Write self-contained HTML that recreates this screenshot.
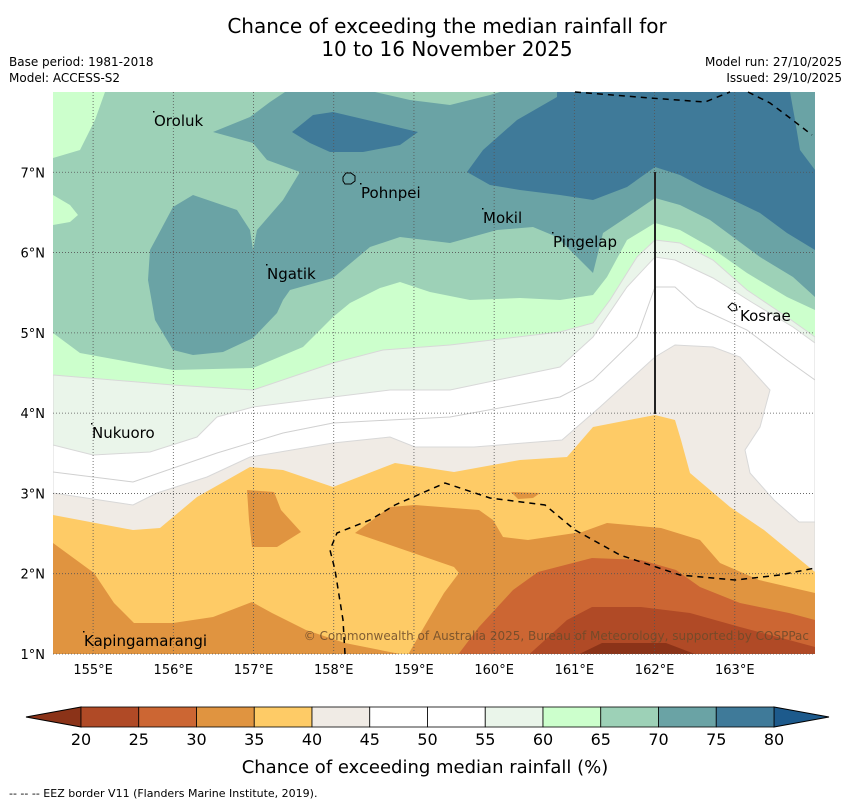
<!DOCTYPE html>
<html><head><meta charset="utf-8"><style>
body{margin:0;background:#fff;}
svg{display:block;font-family:"DejaVu Sans","Liberation Sans",sans-serif;}
</style></head><body>
<svg id="chart" width="850" height="804" viewBox="0 0 850 804" xmlns="http://www.w3.org/2000/svg">
<text x="447" y="33" font-size="20" text-anchor="middle">Chance of exceeding the median rainfall for</text>
<text x="447" y="56" font-size="20" text-anchor="middle">10 to 16 November 2025</text>
<text x="9" y="66" font-size="12">Base period: 1981-2018</text>
<text x="9" y="82" font-size="12">Model: ACCESS-S2</text>
<text x="842" y="66" font-size="12" text-anchor="end">Model run: 27/10/2025</text>
<text x="842" y="82" font-size="12" text-anchor="end">Issued: 29/10/2025</text>
<defs><clipPath id="mapclip"><rect x="53" y="92" width="762" height="562"/></clipPath></defs>
<g id="map" clip-path="url(#mapclip)"></g>
<g id="overlay"></g>
<g id="axes"></g>
<g id="cbar"></g>
<text x="425" y="773" font-size="18" text-anchor="middle">Chance of exceeding median rainfall (%)</text>
<text x="9" y="797" font-size="11">--  --  -- EEZ border V11 (Flanders Marine Institute, 2019).</text>
</svg>
<script>
const levels = [20,25,30,35,40,45,50,55,60,65,70,75,80];
const binColors = ["#b04a26","#cc6633","#e09440","#fecb66","#f0ebe5","#ffffff","#ffffff","#eaf5ea","#ccffcc","#9dd1b7","#6aa3a5","#3f7a99"];
const underColor = "#8b3318";
const overColor = "#1d5a8c";
const lonTicks = [155,156,157,158,159,160,161,162,163];
const latTicks = [1,2,3,4,5,6,7];

const NS="http://www.w3.org/2000/svg";
const lonScale = lon => 53 + (lon-154.5)*80.21;
const latScale = lat => 654 - (lat-1)*80.29;
const cbScale = v => 81 + (v-20)/60*693;
function mk(tag, attrs, parent){const e=document.createElementNS(NS,tag);for(const k in attrs)e.setAttribute(k,attrs[k]);parent.appendChild(e);return e;}
const colorOf = v => v<20?underColor:(v>=80?overColor:binColors[Math.floor((v-20)/5)]);

// contour regions (map pixel geometry): [value, points]
const BOT=[[815,700],[53,700]];
const regions = [
 [67, [[53,92],[815,92],[815,654],[53,654]]],
 [72, [[213,132],[250,117],[270,102],[285,92],[375,92],[410,100],[450,105],[490,95],[500,92],[815,92],[815,297],[793,277],[760,257],[733,237],[710,220],[680,205],[655,198],[627,217],[603,233],[593,273],[575,255],[557,237],[533,227],[497,230],[450,243],[400,237],[370,247],[333,278],[290,290],[283,300],[277,313],[253,338],[223,352],[193,355],[173,350],[155,320],[148,280],[150,250],[157,237],[173,207],[193,195],[237,210],[250,230],[253,250],[257,230],[283,200],[300,172],[267,160],[253,143]]],
 [77, [[557,92],[790,92],[795,120],[800,150],[815,170],[815,250],[787,233],[760,213],[733,200],[703,187],[680,175],[655,167],[627,187],[593,200],[560,195],[520,190],[490,185],[467,172],[483,150],[517,120],[557,97]]],
 [77, [[292,132],[313,115],[333,112],[418,132],[400,145],[363,152],[330,152],[310,143]]],
 [62, [[53,92],[105,92],[95,120],[80,150],[53,158]]],
 [62, [[53,195],[70,205],[78,215],[70,222],[53,225]]],
 [62, [[53,333],[80,353],[173,370],[253,368],[303,347],[333,317],[350,303],[380,288],[400,282],[430,292],[470,300],[520,298],[560,300],[593,295],[607,277],[627,240],[655,223],[680,230],[710,247],[747,273],[787,297],[815,310]].concat(BOT)],
 [57, [[53,375],[173,385],[253,390],[333,363],[383,350],[450,345],[560,332],[593,323],[610,300],[637,257],[655,240],[680,243],[713,260],[747,290],[787,317],[815,337]].concat(BOT)],
 [52, [[53,445],[93,455],[150,452],[197,437],[217,417],[253,407],[333,397],[390,390],[450,390],[560,367],[593,337],[627,287],[655,257],[675,260],[713,278],[753,303],[793,327],[815,343]].concat(BOT)],
 [42, [[53,493],[133,505],[157,493],[207,477],[250,457],[333,443],[390,437],[415,447],[474,447],[562,440],[600,407],[655,357],[675,345],[713,347],[740,357],[770,390],[760,427],[745,450],[750,473],[774,500],[799,522],[815,522]].concat(BOT)],
 [37, [[53,515],[133,530],[160,528],[197,497],[250,467],[283,470],[333,487],[395,463],[454,472],[520,460],[567,457],[593,427],[655,415],[675,420],[681,440],[690,473],[730,507],[764,530],[815,572]].concat(BOT)],
 [32, [[53,543],[94,573],[114,603],[134,623],[173,623],[213,617],[252,602],[272,613],[306,630],[345,643],[405,655],[53,655]]],
 [32, [[405,660],[424,627],[444,593],[459,573],[454,567],[355,533],[390,507],[415,505],[479,510],[493,520],[503,537],[528,540],[582,532],[607,523],[661,528],[700,540],[720,563],[759,580],[815,593],[815,660]]],
 [32, [[247,490],[274,492],[281,510],[301,532],[277,547],[252,547],[249,520]]],
 [32, [[511,492],[540,493],[533,498],[518,499]]],
 [27, [[454,660],[479,627],[513,590],[538,572],[592,558],[641,560],[676,570],[700,587],[740,603],[789,613],[815,620],[815,660]]],
 [22, [[523,660],[567,620],[592,607],[641,607],[690,613],[740,627],[789,640],[815,647],[815,660]]],
 [17, [[567,660],[602,643],[666,643],[700,656]]]
];
const mapG=document.getElementById('map');
regions.forEach((r,i)=>{
  const p=mk('polygon',{points:r[1].map(q=>q.join(',')).join(' '),fill:colorOf(r[0]),stroke:r[0]>=40&&r[0]<60?'#d8d8d8':'none','stroke-width':1},mapG);
  
  
});
// 45/50 internal contour line
const line45=[[53,472],[133,482],[217,453],[283,433],[333,423],[390,420],[450,417],[560,397],[593,380],[637,337],[655,287],[675,287],[697,307],[747,330],[787,360],[815,380]];
const l45=mk('polyline',{points:line45.map(q=>q.join(',')).join(' '),fill:'none',stroke:'#d0d0d0','stroke-width':1},mapG);



// grid
const ov=document.getElementById('overlay');
lonTicks.forEach(l=>{const g=mk('line',{x1:lonScale(l),x2:lonScale(l),y1:92,y2:654,stroke:'#555','stroke-width':0.8,'stroke-dasharray':'1,2'},ov);

});
latTicks.forEach(l=>{const g=mk('line',{x1:53,x2:815,y1:latScale(l),y2:latScale(l),stroke:'#555','stroke-width':0.8,'stroke-dasharray':'1,2'},ov);

});
// EEZ borders
const eez=[[[575,92],[650,98],[705,102],[730,92]],[[748,92],[770,103],[790,118],[812,135]],
 [[345,654],[343,620],[335,570],[330,550],[337,533],[370,520],[395,505],[445,483],[490,498],[545,505],[575,530],[620,555],[680,575],[735,580],[780,575],[815,568]]];
eez.forEach(s=>{const e=mk('polyline',{points:s.map(q=>q.join(',')).join(' '),fill:'none',stroke:'#000','stroke-width':1.5,'stroke-dasharray':'6,5'},ov);

});
const vl=mk('line',{x1:655,x2:655,y1:172,y2:414,stroke:'#222','stroke-width':2},ov);


// islands
const pohn=mk('path',{d:'M343,177 l3,-4 l5,0 l4,3 l0,5 l-4,3 l-6,0 l-2,-3 z',fill:'none',stroke:'#000','stroke-width':1},ov);


const kos=mk('path',{d:'M728,307 l4,-4 l4,2 l1,5 l-5,1 z',fill:'none',stroke:'#000','stroke-width':1},ov);


const places=[["Oroluk",154,126],["Pohnpei",361,198],["Mokil",483,223],["Pingelap",553,247],["Ngatik",267,279],["Kosrae",740,321],["Nukuoro",92,438],["Kapingamarangi",84,646]];
places.forEach(p=>{const t=mk('text',{x:p[1],y:p[2],'font-size':15},ov);t.textContent=p[0];


const d=mk('rect',{x:p[1]-1,y:p[2]-15,width:1.5,height:1.5,fill:'#000'},ov);

});
const cp=mk('text',{x:809,y:640,'font-size':12,'text-anchor':'end',fill:'#6b4a2a','fill-opacity':0.85},ov);
cp.textContent="© Commonwealth of Australia 2025, Bureau of Meteorology, supported by COSPPac";



// axes labels
const ax=document.getElementById('axes');
lonTicks.forEach(l=>{const t=mk('text',{x:lonScale(l),y:674,'font-size':13,'text-anchor':'middle'},ax);t.textContent=l+"°E";

});
latTicks.forEach(l=>{const t=mk('text',{x:45,y:latScale(l)+5,'font-size':13,'text-anchor':'end'},ax);t.textContent=l+"°N";

});

// colorbar
const cb=document.getElementById('cbar');
const lt=mk('polygon',{points:`26,717 ${cbScale(20)},707 ${cbScale(20)},727`,fill:underColor,stroke:'#000','stroke-width':1},cb);


const rt=mk('polygon',{points:`829,717 ${cbScale(80)},707 ${cbScale(80)},727`,fill:overColor,stroke:'#000','stroke-width':1},cb);


binColors.forEach((c,i)=>{const r=mk('rect',{x:cbScale(levels[i]),y:707,width:cbScale(levels[i+1])-cbScale(levels[i]),height:20,fill:c,stroke:'#000','stroke-width':0.8},cb);

});
levels.forEach(v=>{const t=mk('text',{x:cbScale(v),y:745,'font-size':16,'text-anchor':'middle'},cb);t.textContent=v;

});
</script>
</body></html>
